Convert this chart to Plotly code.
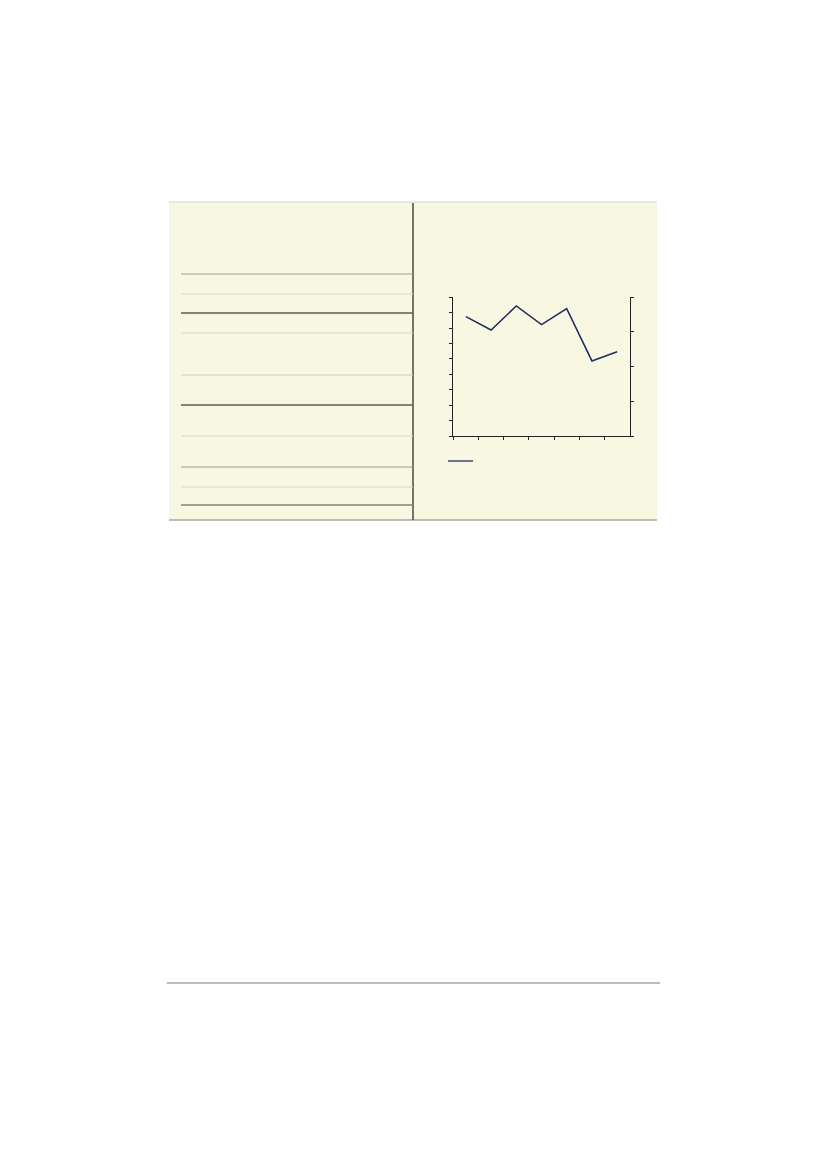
import plotly.graph_objects as go

# page size of the picture
W = 826
H = 1169
# the html body has an 8px margin, shift everything back by it
OFF = 8

# series (left scale 0-90)
periodos = ["1", "2", "3", "4", "5", "6", "7"]
valores = [77.5, 68.8, 84.4, 72.3, 82.6, 48.7, 54.7]

# left / right axis ranges
izq_rango = [0, 90]
der_rango = [0, 4]

# horizontal rules of the table (y in pixels, colour, width)
filas_y = [274, 294, 313, 333, 375, 405, 436, 467, 487, 505]
filas_color = ["#a3a190", "#d9d7c2", "#5f5d4c", "#d9d7c2", "#cfcdb9",
               "#5f5d4c", "#d9d7c2", "#9c9a88", "#d9d7c2", "#85836f"]
filas_ancho = [1.2, 1, 1.4, 1, 1, 1.4, 1, 1.2, 1, 1.3]


def px_x(x):
    return (x - OFF) / W


def px_y(y):
    return 1 - (y - OFF) / H


fig = go.Figure()

fig.add_trace(go.Scatter(x=periodos, y=valores, mode="lines",
                         line=dict(color="#1e2c62", width=1.5),
                         showlegend=False, hoverinfo="skip"))
# empty trace so the right axis gets drawn
fig.add_trace(go.Scatter(x=[], y=[], yaxis="y2", showlegend=False,
                         hoverinfo="skip"))

shapes = []
# beige panel
shapes.append(dict(type="rect", xref="paper", yref="paper",
                   x0=px_x(169), x1=px_x(657), y0=px_y(520), y1=px_y(202),
                   fillcolor="#f8f7e1", line=dict(width=0), layer="below"))
# top and bottom border of panel
shapes.append(dict(type="line", xref="paper", yref="paper",
                   x0=px_x(169), x1=px_x(657), y0=px_y(202), y1=px_y(202),
                   line=dict(color="#d6d5cc", width=1.2)))
shapes.append(dict(type="line", xref="paper", yref="paper",
                   x0=px_x(169), x1=px_x(657), y0=px_y(520), y1=px_y(520),
                   line=dict(color="#a9a898", width=1.5)))
# divider between table and chart
shapes.append(dict(type="line", xref="paper", yref="paper",
                   x0=px_x(413), x1=px_x(413), y0=px_y(520), y1=px_y(203),
                   line=dict(color="#4d4b3d", width=1.5)))
# table rules
for y, c, w in zip(filas_y, filas_color, filas_ancho):
    shapes.append(dict(type="line", xref="paper", yref="paper",
                       x0=px_x(181), x1=px_x(413), y0=px_y(y), y1=px_y(y),
                       line=dict(color=c, width=w)))
# legend sample line
shapes.append(dict(type="line", xref="paper", yref="paper",
                   x0=px_x(448), x1=px_x(473), y0=px_y(461), y1=px_y(461),
                   line=dict(color="#1e2c62", width=1.3)))
# footer rule
shapes.append(dict(type="line", xref="paper", yref="paper",
                   x0=px_x(167), x1=px_x(660), y0=px_y(983), y1=px_y(983),
                   line=dict(color="#a4a4a4", width=1.5)))

eje = dict(showgrid=False, zeroline=False, showline=True, linecolor="#222222",
           linewidth=1, ticks="outside", ticklen=3, tickcolor="#222222",
           showticklabels=False)

fig.update_layout(
    width=W, height=H,
    margin=dict(l=0, r=0, t=0, b=0),
    paper_bgcolor="white",
    plot_bgcolor="rgba(0,0,0,0)",
    showlegend=False,
    shapes=shapes,
    xaxis=dict(eje, type="category", tickson="boundaries",
               range=[-0.5, len(periodos) - 0.5],
               domain=[px_x(453.3), px_x(629.7)]),
    yaxis=dict(eje, range=izq_rango, dtick=10,
               domain=[px_y(436), px_y(297.3)]),
    yaxis2=dict(eje, range=der_rango, dtick=1, overlaying="y", side="right",
                anchor="x"),
)

fig.write_html("out.html")
